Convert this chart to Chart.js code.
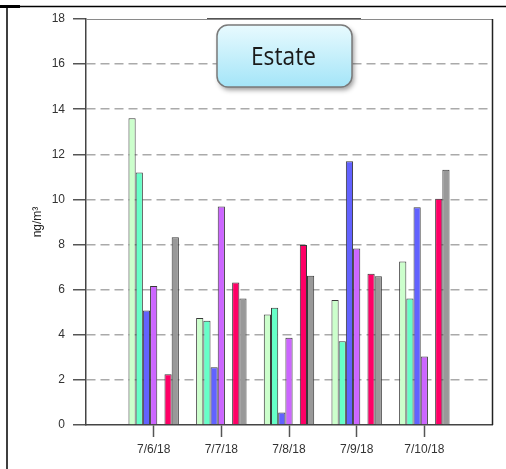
<!DOCTYPE html>
<html>
<head>
<meta charset="utf-8">
<script src="https://cdn.jsdelivr.net/npm/chart.js@4/dist/chart.umd.min.js"></script>
<style>
  html, body { margin: 0; padding: 0; background: #fff; }
</style>
</head>
<body>
<canvas id="chart" width="506" height="469"></canvas>
<script>
// data
const dates = ["7/6/18", "7/7/18", "7/8/18", "7/9/18", "7/10/18"];
const yTicks = [0, 2, 4, 6, 8, 10, 12, 14, 16, 18];

const lightGreen = [13.6, 4.74, 4.9, 5.54, 7.25];
const aqua       = [11.2, 4.62, 5.2, 3.71, 5.61];
const blue       = [5.08, 2.56, 0.55, 11.69, 9.65];
const purple     = [6.16, 9.69, 3.87, 7.83, 3.04];
const empty      = [null, null, null, null, null];
const red        = [2.25, 6.32, 7.98, 6.71, 10.03];
const grey       = [8.32, 5.61, 6.62, 6.59, 11.32];

// one blank slot each side of the dates
const labels = ["", ...dates, ""];
const pad = arr => [null, ...arr, null];

const mkSet = (data, color) => ({
    data: pad(data),
    backgroundColor: color,
    borderColor: "#3a3a3a",
    borderWidth: 1,
    borderSkipped: "bottom"
});

const decor = {
    id: "decor",
    beforeDraw(chart) {
        const ctx = chart.ctx;
        ctx.save();
        ctx.fillStyle = "#000";
        ctx.fillRect(0, 5, 20, 3);
        ctx.strokeStyle = "#000";
        ctx.lineWidth = 1.5;
        ctx.beginPath();
        ctx.moveTo(6, 6.5); ctx.lineTo(506, 6.5);
        ctx.moveTo(7, 6); ctx.lineTo(7, 469);
        ctx.stroke();
        ctx.restore();
    },
    afterDraw(chart) {
        const ctx = chart.ctx;
        const a = chart.chartArea;
        ctx.save();
        // plot frame top / right
        ctx.lineWidth = 1.2;
        ctx.strokeStyle = "#8a8a8a";
        ctx.beginPath();
        ctx.moveTo(a.left, a.top + 0.5); ctx.lineTo(a.right, a.top + 0.5);
        ctx.stroke();
        ctx.strokeStyle = "#555";
        ctx.beginPath();
        ctx.moveTo(207, a.top - 0.5); ctx.lineTo(361, a.top - 0.5);
        ctx.stroke();
        ctx.lineWidth = 1.5;
        ctx.strokeStyle = "#222";
        ctx.beginPath();
        ctx.moveTo(a.right + 0.5, a.top); ctx.lineTo(a.right + 0.5, a.bottom);
        ctx.stroke();

        // title box
        const x = 217, y = 25, w = 135, h = 62;
        const g = ctx.createLinearGradient(0, y, 0, y + h);
        g.addColorStop(0, "#e8fafe");
        g.addColorStop(1, "#a4e5f8");
        ctx.shadowColor = "rgba(0,0,0,0.4)";
        ctx.shadowBlur = 5;
        ctx.shadowOffsetX = 2;
        ctx.shadowOffsetY = 3;
        ctx.beginPath();
        ctx.roundRect(x, y, w, h, 11);
        ctx.fillStyle = g;
        ctx.fill();
        ctx.shadowColor = "transparent";
        ctx.lineWidth = 1.5;
        ctx.strokeStyle = "#7a7a7a";
        ctx.stroke();
        ctx.fillStyle = "#1a1a1a";
        ctx.font = '26px "Open Sans"';
        ctx.textAlign = "center";
        ctx.textBaseline = "alphabetic";
        ctx.fillText("Estate", x + w / 2 - 1, 65, 65);
        ctx.restore();
    }
};

new Chart(document.getElementById("chart"), {
    type: "bar",
    data: {
        labels: labels,
        datasets: [
            mkSet(lightGreen, "#ccffcc"),
            mkSet(aqua, "#66ffc8"),
            mkSet(blue, "#6262ff"),
            mkSet(purple, "#cc66ff"),
            mkSet(empty, "#ffffff"),
            mkSet(red, "#ff0066"),
            mkSet(grey, "#999999")
        ]
    },
    options: {
        responsive: false,
        animation: false,
        categoryPercentage: 0.745,
        barPercentage: 1,
        layout: { padding: { left: 14, top: 19, right: 14, bottom: 0 } },
        plugins: {
            legend: { display: false },
            tooltip: { enabled: false }
        },
        scales: {
            x: {
                offset: false,
                afterFit: s => { s.height = 44; },
                grid: {
                    offset: false,
                    drawOnChartArea: false,
                    tickLength: 12,
                    tickWidth: 1.5,
                    tickColor: c => (c.index === 0 || c.index === labels.length - 1) ? "transparent" : "#555"
                },
                border: { color: "#444", width: 1.5 },
                ticks: {
                    autoSkip: false,
                    maxRotation: 0,
                    padding: 5,
                    color: "#333",
                    font: { family: "'Liberation Sans', Arial", size: 12 }
                }
            },
            y: {
                min: 0,
                max: 18,
                afterFit: s => { s.width = 72; },
                afterBuildTicks: s => { s.ticks = yTicks.map(v => ({ value: v })); },
                grid: {
                    color: c => (c.tick && (c.tick.value === 0 || c.tick.value === 18)) ? "transparent" : "#aaaaaa",
                    lineWidth: 1.5,
                    tickLength: 13,
                    tickWidth: 1.5,
                    tickColor: "#555"
                },
                border: { color: "#444", width: 1.5, dash: [9, 5] },
                ticks: {
                    padding: 8,
                    color: "#333",
                    font: { family: "'Liberation Sans', Arial", size: 12 }
                },
                title: {
                    display: true,
                    text: "ng/m³",
                    color: "#222",
                    padding: { top: 16, bottom: 0 },
                    font: { family: "'Liberation Sans', Arial", size: 12 }
                }
            }
        }
    },
    plugins: [decor]
});
</script>
</body>
</html>
